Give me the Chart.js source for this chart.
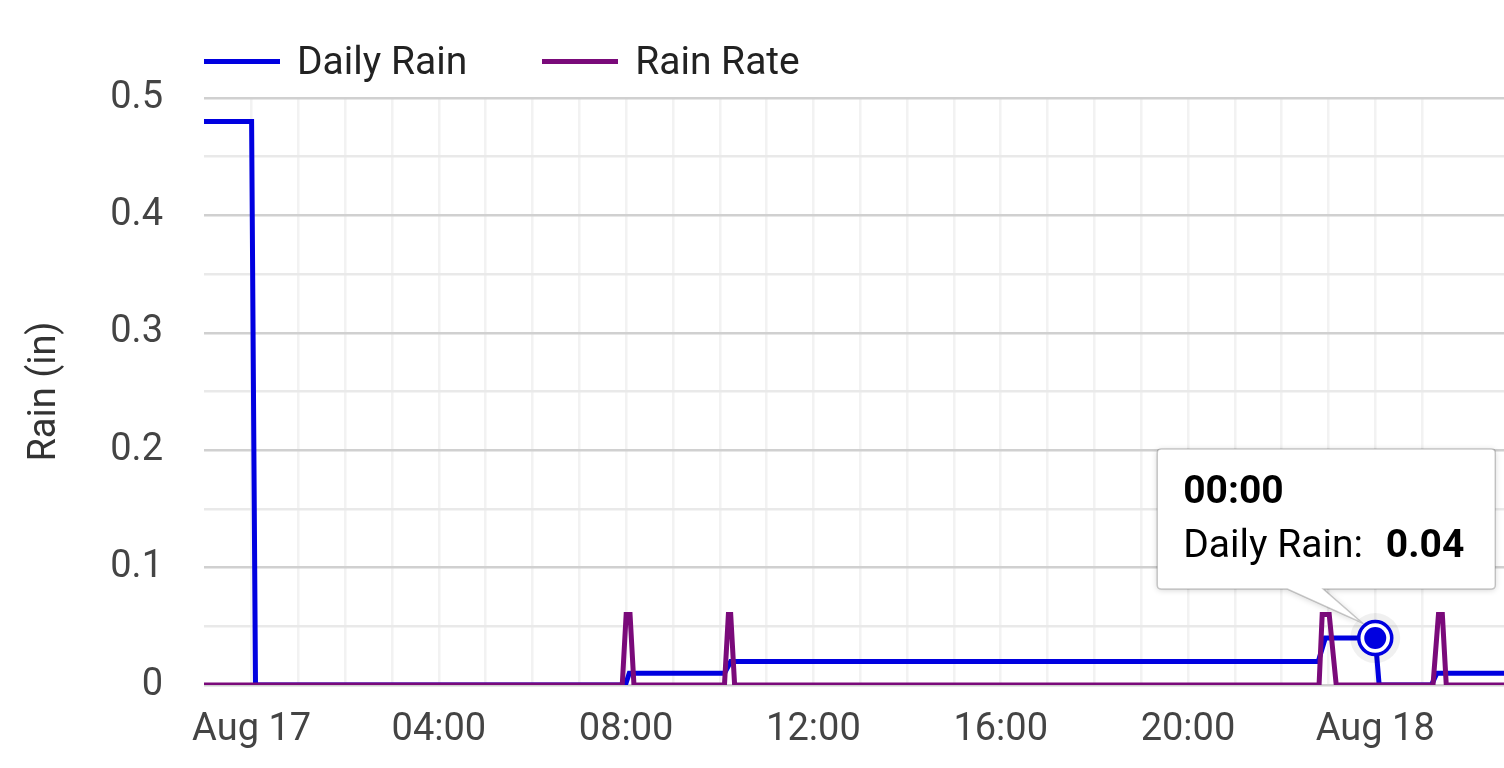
<!DOCTYPE html>
<html lang="en">
<head>
  <meta charset="UTF-8">
  <title>Rain</title>
  <script src="https://cdn.jsdelivr.net/npm/chart.js"></script>
  <style>
    body { margin: 0; background: #fff; }
    #wrap { position: relative; width: 1504px; height: 768px; }
    #legend { position: absolute; left: 204px; top: 38px; height: 46px; display: flex; align-items: center;
              font: 39px Roboto, sans-serif; color: #222; }
    .item { display: flex; align-items: center; margin-right: 75px; }
    .swatch { width: 76px; height: 5px; margin-right: 17px; }
  </style>
</head>
<body>
  <div id="wrap">
    <div id="legend"></div>
    <canvas id="rainChart"></canvas>
  </div>

  <script>
    // times are minutes from Aug 17 00:00
    const dailyTimes = [-61, 0, 5, 479, 484, 606, 614, 1367, 1376, 1440, 1445, 1512, 1519, 1605];
    const dailyRain  = [0.48, 0.48, 0, 0, 0.01, 0.01, 0.02, 0.02, 0.04, 0.04, 0, 0, 0.01, 0.01];
    const rateTimes  = [-61, 475, 480, 485, 490, 606, 611, 614, 619, 1368, 1372, 1381, 1390, 1514, 1521, 1526, 1531, 1605];
    const rainRate   = [0, 0, 0.06, 0.06, 0, 0, 0.06, 0.06, 0, 0, 0.06, 0.06, 0, 0, 0.06, 0.06, 0, 0];
    const tickHours  = [0, 4, 8, 12, 16, 20, 24];
    const tickLabels = ['Aug 17', '04:00', '08:00', '12:00', '16:00', '20:00', 'Aug 18'];
    const hoverIndex = 9; // Daily Rain point shown with the tooltip

    const BLUE = '#0000e0';
    const PURPLE = '#7a0a7a';
    const FONT = 'Roboto, sans-serif';

    function fmtTime(m) {
      const t = ((m % 1440) + 1440) % 1440;
      const h = Math.floor(t / 60), mm = t % 60;
      return String(h).padStart(2, '0') + ':' + String(mm).padStart(2, '0');
    }

    // draws the highlighted point and its callout
    const focusPlugin = {
      id: 'focus',
      afterDatasetsDraw(chart) {
        const ds = chart.data.datasets[0];
        const pt = chart.getDatasetMeta(0).data[hoverIndex];
        const x = pt.x, y = pt.y;
        const ctx = chart.ctx;
        ctx.save();

        ctx.beginPath(); ctx.arc(x, y, 25, 0, Math.PI * 2);
        ctx.fillStyle = 'rgba(0,0,0,0.06)'; ctx.fill();
        ctx.beginPath(); ctx.arc(x, y, 16.5, 0, Math.PI * 2);
        ctx.fillStyle = '#fff'; ctx.fill();
        ctx.lineWidth = 3.5; ctx.strokeStyle = BLUE; ctx.stroke();
        ctx.beginPath(); ctx.arc(x, y, 11, 0, Math.PI * 2);
        ctx.fillStyle = BLUE; ctx.fill();

        const bx = x - 218, by = y - 189, bw = 338, bh = 140, r = 4;
        ctx.beginPath();
        ctx.moveTo(bx + r, by);
        ctx.lineTo(bx + bw - r, by);
        ctx.quadraticCurveTo(bx + bw, by, bx + bw, by + r);
        ctx.lineTo(bx + bw, by + bh - r);
        ctx.quadraticCurveTo(bx + bw, by + bh, bx + bw - r, by + bh);
        ctx.lineTo(x - 52, by + bh);
        ctx.lineTo(x - 13, y - 15);
        ctx.lineTo(x - 88, by + bh);
        ctx.lineTo(bx + r, by + bh);
        ctx.quadraticCurveTo(bx, by + bh, bx, by + bh - r);
        ctx.lineTo(bx, by + r);
        ctx.quadraticCurveTo(bx, by, bx + r, by);
        ctx.closePath();
        ctx.shadowColor = 'rgba(0,0,0,0.18)'; ctx.shadowBlur = 6; ctx.shadowOffsetY = 1;
        ctx.fillStyle = '#fff'; ctx.fill();
        ctx.shadowColor = 'transparent';
        ctx.strokeStyle = 'rgba(0,0,0,0.2)'; ctx.lineWidth = 1.5; ctx.stroke();

        ctx.fillStyle = '#000';
        ctx.textBaseline = 'alphabetic';
        ctx.textAlign = 'left';
        ctx.font = 'bold 39px ' + FONT;
        ctx.fillText(fmtTime(dailyTimes[hoverIndex]), bx + 26, y - 135);
        ctx.font = '39px ' + FONT;
        const lbl = ds.label + ':';
        ctx.fillText(lbl, bx + 26, y - 81);
        const w = ctx.measureText(lbl).width;
        ctx.font = 'bold 39px ' + FONT;
        ctx.fillText(String(ds.data[hoverIndex].y), bx + 26 + w + 23, y - 81);
        ctx.restore();
      }
    };

    const datasets = [{
      label: 'Daily Rain',
      data: dailyTimes.map((t, i) => ({ x: t, y: dailyRain[i] })),
      borderColor: BLUE,
      backgroundColor: BLUE,
      borderWidth: 5,
      order: 1
    }, {
      label: 'Rain Rate',
      data: rateTimes.map((t, i) => ({ x: t, y: rainRate[i] })),
      borderColor: PURPLE,
      backgroundColor: PURPLE,
      borderWidth: 5,
      order: 0
    }];

    // legend
    const legend = document.getElementById('legend');
    datasets.forEach(d => {
      const item = document.createElement('div');
      item.className = 'item';
      item.innerHTML = `<span class="swatch" style="background:${d.borderColor}"></span><span>${d.label}</span>`;
      legend.appendChild(item);
    });

    const ctx = document.getElementById('rainChart').getContext('2d');
    new Chart(ctx, {
      type: 'line',
      data: { datasets: datasets },
      plugins: [focusPlugin],
      options: {
        responsive: true,
        maintainAspectRatio: false,
        animation: false,
        events: [],
        layout: { padding: { top: 98, right: 0, bottom: 0, left: 0 } },
        elements: { point: { radius: 0 }, line: { tension: 0 } },
        plugins: { legend: { display: false }, tooltip: { enabled: false } },
        scales: {
          x: {
            type: 'linear',
            min: -61,
            max: 1605,
            border: { display: false },
            grid: {
              drawTicks: false,
              lineWidth: 2.5,
              color: c => (c.tick && c.tick.value % 60 === 0) ? '#f2f2f2' : 'rgba(0,0,0,0)'
            },
            ticks: {
              stepSize: 60,
              autoSkip: false,
              maxRotation: 0,
              padding: 23,
              color: '#444',
              font: { family: FONT, size: 38 },
              callback: v => {
                const i = tickHours.indexOf(v / 60);
                return i < 0 ? '' : tickLabels[i];
              }
            },
            afterFit: s => { s.height = 83; s.paddingLeft = 0; s.paddingRight = 0; }
          },
          y: {
            min: 0,
            max: 0.5,
            border: { display: false },
            grid: {
              drawTicks: false,
              lineWidth: 2.5,
              color: c => (c.tick && Math.round(c.tick.value * 100) % 10 === 0) ? '#d0d0d0' : '#e9e9e9'
            },
            ticks: {
              stepSize: 0.05,
              padding: 41,
              color: '#444',
              font: { family: FONT, size: 38 },
              callback: v => Math.round(v * 100) % 10 === 0 ? String(+v.toFixed(1)) : ''
            },
            title: {
              display: true,
              text: 'Rain (in)',
              color: '#333',
              font: { family: FONT, size: 38 },
              padding: { top: 23, bottom: 0 }
            },
            afterFit: s => { s.width = 204; }
          }
        }
      }
    });
  </script>
</body>
</html>
